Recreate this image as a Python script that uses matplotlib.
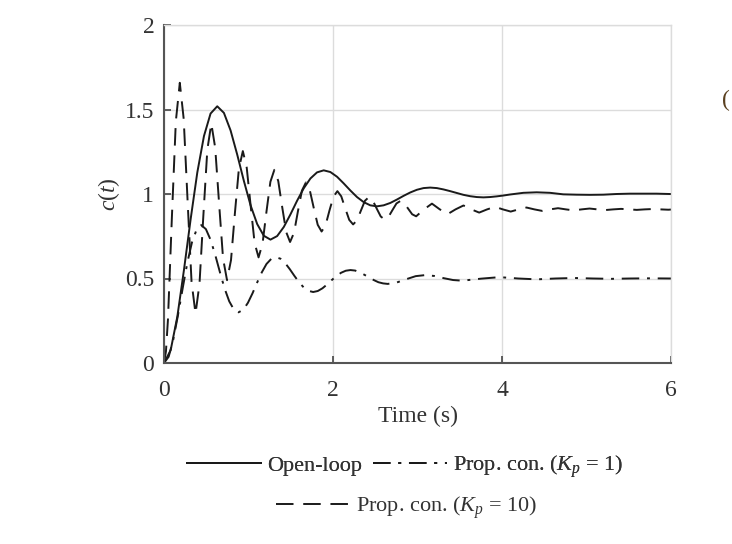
import matplotlib
matplotlib.use("Agg")
import matplotlib.pyplot as plt
from matplotlib.lines import Line2D

plt.rcParams['font.family'] = ['Liberation Serif', 'DejaVu Serif']
plt.rcParams['mathtext.fontset'] = 'custom'
plt.rcParams['mathtext.it'] = 'Liberation Serif:italic'
plt.rcParams['mathtext.rm'] = 'Liberation Serif'

# ---- data ----
t_open = [0, 0.079, 0.158, 0.236, 0.315, 0.394, 0.473, 0.551, 0.630, 0.709, 0.788,
          0.866, 0.945, 1.024, 1.103, 1.181, 1.260, 1.339, 1.418, 1.496, 1.575,
          1.654, 1.733, 1.811, 1.890, 1.969, 2.048, 2.126, 2.205, 2.284, 2.363,
          2.441, 2.520, 2.599, 2.678, 2.756, 2.835, 2.914, 2.993, 3.071, 3.150,
          3.229, 3.308, 3.386, 3.465, 3.544, 3.623, 3.701, 3.780, 3.859, 3.938,
          4.016, 4.095, 4.253, 4.410, 4.568, 4.725, 4.883, 5.040, 5.198, 5.355,
          5.513, 5.670, 5.828, 5.985, 6.0]
c_open = [0, 0.076, 0.275, 0.550, 0.850, 1.127, 1.343, 1.476, 1.519, 1.480, 1.376,
          1.234, 1.078, 0.934, 0.822, 0.753, 0.730, 0.751, 0.805, 0.879, 0.960,
          1.034, 1.092, 1.128, 1.140, 1.130, 1.102, 1.063, 1.021, 0.982, 0.952,
          0.933, 0.927, 0.933, 0.947, 0.967, 0.989, 1.009, 1.025, 1.035, 1.038,
          1.035, 1.027, 1.017, 1.006, 0.995, 0.987, 0.982, 0.980, 0.982, 0.986,
          0.991, 0.997, 1.007, 1.010, 1.007, 0.998, 0.996, 0.995, 0.996, 1.000,
          1.002, 1.002, 1.002, 1.000, 1.000]

t_kp1 = [0, 0.055, 0.110, 0.165, 0.221, 0.276, 0.331, 0.386, 0.441, 0.496, 0.552,
         0.607, 0.662, 0.717, 0.772, 0.827, 0.882, 0.938, 0.993, 1.048, 1.103,
         1.158, 1.213, 1.269, 1.324, 1.379, 1.434, 1.489, 1.544, 1.600, 1.655,
         1.710, 1.765, 1.820, 1.875, 1.931, 1.986, 2.041, 2.096, 2.151, 2.206,
         2.262, 2.317, 2.372, 2.427, 2.482, 2.537, 2.593, 2.648, 2.758, 2.868,
         2.979, 3.089, 3.199, 3.310, 3.420, 3.530, 3.751, 3.971, 4.192, 4.412,
         4.633, 4.853, 5.074, 5.294, 5.515, 5.735, 6.0]
c_kp1 = [0, 0.037, 0.139, 0.282, 0.442, 0.593, 0.714, 0.790, 0.816, 0.792, 0.728,
         0.638, 0.537, 0.441, 0.365, 0.316, 0.300, 0.315, 0.356, 0.413, 0.477,
         0.537, 0.586, 0.616, 0.626, 0.617, 0.591, 0.555, 0.515, 0.477, 0.446,
         0.427, 0.420, 0.426, 0.442, 0.465, 0.491, 0.515, 0.534, 0.546, 0.550,
         0.547, 0.536, 0.522, 0.506, 0.491, 0.478, 0.471, 0.468, 0.477, 0.496,
         0.514, 0.520, 0.515, 0.502, 0.491, 0.487, 0.499, 0.508, 0.500, 0.495,
         0.500, 0.503, 0.500, 0.498, 0.500, 0.501, 0.500]

t_kp10 = [0, 0.023, 0.047, 0.093, 0.140, 0.187, 0.233, 0.280, 0.326, 0.373, 0.420,
          0.466, 0.513, 0.560, 0.606, 0.653, 0.699, 0.746, 0.793, 0.839, 0.886,
          0.933, 0.979, 1.026, 1.072, 1.119, 1.166, 1.212, 1.259, 1.306, 1.352,
          1.399, 1.446, 1.492, 1.539, 1.585, 1.632, 1.679, 1.725, 1.772, 1.819,
          1.865, 1.912, 1.958, 2.005, 2.052, 2.098, 2.145, 2.192, 2.238, 2.285,
          2.332, 2.378, 2.425, 2.471, 2.518, 2.565, 2.611, 2.658, 2.705, 2.751,
          2.798, 2.844, 2.891, 2.937, 2.984, 3.077, 3.171, 3.264, 3.357, 3.450,
          3.544, 3.637, 3.730, 3.824, 3.917, 4.010, 4.103, 4.196, 4.290, 4.383,
          4.476, 4.569, 4.663, 4.756, 4.849, 4.942, 5.036, 5.129, 5.222, 5.316,
          5.409, 5.502, 5.595, 5.688, 5.782, 5.875, 5.968, 6.0]
c_kp10 = [0, 0.068, 0.259, 0.858, 1.430, 1.658, 1.445, 0.951, 0.480, 0.292, 0.468,
          0.874, 1.263, 1.417, 1.273, 0.937, 0.618, 0.490, 0.609, 0.886, 1.149,
          1.254, 1.156, 0.928, 0.711, 0.625, 0.706, 0.893, 1.072, 1.143, 1.077,
          0.922, 0.775, 0.716, 0.771, 0.898, 1.020, 1.068, 1.023, 0.918, 0.818,
          0.778, 0.815, 0.902, 0.984, 1.017, 0.986, 0.915, 0.847, 0.820, 0.845,
          0.904, 0.960, 0.982, 0.961, 0.913, 0.867, 0.849, 0.866, 0.906, 0.944,
          0.959, 0.945, 0.912, 0.880, 0.868, 0.909, 0.943, 0.909, 0.881, 0.909,
          0.932, 0.909, 0.890, 0.909, 0.924, 0.909, 0.896, 0.909, 0.920, 0.909,
          0.900, 0.909, 0.916, 0.909, 0.903, 0.909, 0.914, 0.909, 0.905, 0.909,
          0.912, 0.909, 0.906, 0.909, 0.911, 0.909, 0.907, 0.908]

x_ticks = [0, 2, 4, 6]
x_tick_labels = ['0', '2', '4', '6']
y_ticks = [0, 0.5, 1, 1.5, 2]
y_tick_labels = ['0', '0.5', '1', '1.5', '2']
series_labels = ['Open-loop', 'Prop. con. ($K_p$ = 1)', 'Prop. con. ($K_p$ = 10)']

# ---- figure ----
txt = '#333333'
lc = '#1a1a1a'
ls_open = '-'
ls_kp1 = (0, (9, 4, 1.5, 4))
ls_kp10 = (0, (9, 5))

fig = plt.figure(figsize=(7.32, 5.44), dpi=100)
ax = fig.add_axes([164/732, 1-363/544, (671-164)/732, (363-25)/544])

ax.plot(t_open, c_open, color=lc, lw=1.4, ls=ls_open)
ax.plot(t_kp1, c_kp1, color=lc, lw=1.4, ls=ls_kp1)
ax.plot(t_kp10, c_kp10, color=lc, lw=1.4, ls=ls_kp10)

ax.set_xlim(0, 6)
ax.set_ylim(0, 2)
ax.set_xticks(x_ticks)
ax.set_xticklabels(x_tick_labels)
ax.set_yticks(y_ticks)
ax.set_yticklabels(y_tick_labels)
ax.grid(True, color='#dcdcdc', lw=1.0)
ax.set_axisbelow(True)
ax.tick_params(direction='in', length=5, width=1.2, colors='#444444',
               labelcolor=txt, labelsize=17)
ax.tick_params(axis='x', pad=12)
ax.tick_params(axis='y', pad=7)
for s in ['left', 'bottom']:
    ax.spines[s].set_color('#555555')
    ax.spines[s].set_linewidth(1.5)
for s in ['top', 'right']:
    ax.spines[s].set_color('#dcdcdc')
    ax.spines[s].set_linewidth(1.0)

ax.set_xlabel('Time (s)', fontsize=17, color=txt, labelpad=4)
ax.set_ylabel('$c(t)$', fontsize=17, color=txt, labelpad=2)

h_open = Line2D([], [], color=lc, lw=1.4, ls=ls_open)
h_kp1 = Line2D([], [], color=lc, lw=1.4, ls=ls_kp1)
h_kp10 = Line2D([], [], color=lc, lw=1.4, ls=ls_kp10)
leg1 = fig.legend([h_open, h_kp1], series_labels[:2],
                  loc='center', bbox_to_anchor=(0.554, 1-467/544), ncol=2, frameon=False,
                  fontsize=16, handlelength=3.3, handletextpad=0.3, columnspacing=0.5)
leg2 = fig.legend([h_kp10], series_labels[2:],
                  loc='center', bbox_to_anchor=(0.555, 1-508/544), ncol=1, frameon=False,
                  fontsize=16, handlelength=3.3, handletextpad=0.3)
fig.add_artist(leg1)
for lg in (leg1, leg2):
    for t in lg.get_texts():
        t.set_color(txt)

fig.text(0.986, 0.815, '(', fontsize=17, color='#5a4020', ha='left', va='center')

fig.savefig('out.png', dpi=100)
